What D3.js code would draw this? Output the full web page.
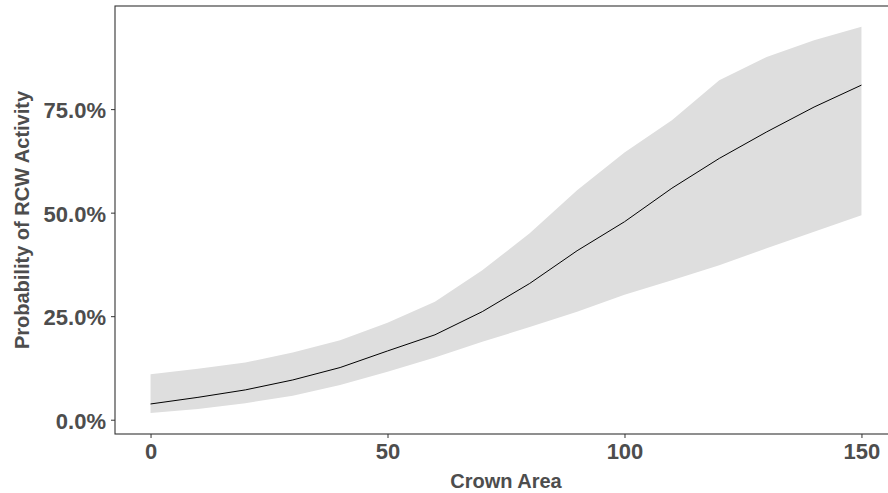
<!DOCTYPE html>
<html>
<head>
<meta charset="utf-8">
<script src="https://cdn.jsdelivr.net/npm/d3@7"></script>
<style>
  body { margin: 0; background: #fff; }
  text { font-family: "Liberation Sans", Arial, sans-serif; font-weight: bold; }
</style>
</head>
<body>
<div id="chart"></div>
<script>
// chart size and panel edges (panel runs a bit past the right edge, as in the original)
const WIDTH = 888;
const HEIGHT = 493;
const PANEL = {left: 115, right: 897, top: 6, bottom: 434};

// data: crown area and predicted probability (%)
const crownArea = [0, 10, 20, 30, 40, 50, 60, 70, 80, 90, 100, 110, 120, 130, 140, 150];
const probFit   = [3.8, 5.4, 7.2, 9.6, 12.6, 16.6, 20.5, 26.1, 32.9, 40.8, 47.8, 55.9, 63.1, 69.5, 75.5, 80.8];
const probLow   = [1.6, 2.6, 4.0, 5.8, 8.4, 11.6, 15.0, 18.8, 22.4, 26.1, 30.2, 33.7, 37.3, 41.4, 45.4, 49.4];
const probHigh  = [11.0, 12.3, 13.8, 16.2, 19.2, 23.4, 28.5, 36.1, 45.0, 55.4, 64.5, 72.3, 82.0, 87.6, 91.6, 94.9];

const xTicks = [0, 50, 100, 150];
const yTicks = [0, 25, 50, 75];

const rows = crownArea.map((d, i) => ({x: d, fit: probFit[i], lo: probLow[i], hi: probHigh[i]}));

const svg = d3.select("#chart")
  .append("svg")
    .attr("width", WIDTH)
    .attr("height", HEIGHT);

// scales, with ggplot style 5% padding on each side
const X_SCALE = d3.scaleLinear()
  .domain([-7.5, 157.5])
  .range([PANEL.left, PANEL.right]);

const Y_SCALE = d3.scaleLinear()
  .domain([-3.45, 99.9])
  .range([PANEL.bottom, PANEL.top]);

// confidence band
svg.append("path")
  .datum(rows)
  .attr("fill", "#dedede")
  .attr("d", d3.area()
    .x((d) => X_SCALE(d.x))
    .y0((d) => Y_SCALE(d.lo))
    .y1((d) => Y_SCALE(d.hi)));

// fitted line
svg.append("path")
  .datum(rows)
  .attr("fill", "none")
  .attr("stroke", "#000")
  .attr("stroke-width", 1)
  .attr("d", d3.line()
    .x((d) => X_SCALE(d.x))
    .y((d) => Y_SCALE(d.fit)));

// panel border
svg.append("rect")
  .attr("x", PANEL.left)
  .attr("y", PANEL.top)
  .attr("width", PANEL.right - PANEL.left)
  .attr("height", PANEL.bottom - PANEL.top)
  .attr("fill", "none")
  .attr("stroke", "#333")
  .attr("stroke-width", 1.1);

// x axis
const xAxis = svg.append("g")
  .attr("transform", "translate(0," + PANEL.bottom + ")")
  .call(d3.axisBottom(X_SCALE).tickValues(xTicks).tickSize(4).tickPadding(5).tickSizeOuter(0));
xAxis.select(".domain").remove();
xAxis.selectAll("line").attr("stroke", "#333");
xAxis.selectAll("text")
  .attr("fill", "#4d4d4d")
  .attr("font-size", "22px")
  .attr("font-family", "Liberation Sans, Arial, sans-serif")
  .attr("font-weight", "bold");

// y axis
const yAxis = svg.append("g")
  .attr("transform", "translate(" + PANEL.left + ",0)")
  .call(d3.axisLeft(Y_SCALE).tickValues(yTicks).tickSize(4).tickPadding(5)
    .tickFormat((d) => d.toFixed(1) + "%"));
yAxis.select(".domain").remove();
yAxis.selectAll("line").attr("stroke", "#333");
yAxis.selectAll("text")
  .attr("fill", "#4d4d4d")
  .attr("font-size", "22px")
  .attr("dy", "0.4em")
  .attr("font-family", "Liberation Sans, Arial, sans-serif")
  .attr("font-weight", "bold");

// axis titles
svg.append("text")
  .attr("x", (PANEL.left + PANEL.right) / 2)
  .attr("y", 488)
  .attr("text-anchor", "middle")
  .attr("fill", "#4d4d4d")
  .attr("font-size", "20px")
  .text("Crown Area");

svg.append("text")
  .attr("transform", "translate(29," + (PANEL.top + PANEL.bottom) / 2 + ") rotate(-90)")
  .attr("text-anchor", "middle")
  .attr("fill", "#4d4d4d")
  .attr("font-size", "20px")
  .text("Probability of RCW Activity");
</script>
</body>
</html>
